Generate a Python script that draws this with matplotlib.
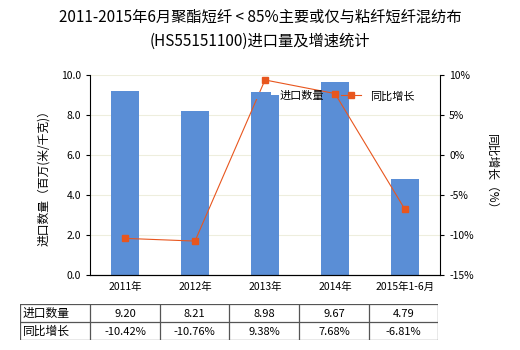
import numpy as np
import matplotlib.pyplot as plt

plt.rcParams['font.family'] = ['Noto Sans CJK SC', 'DejaVu Sans']

categories = ["2011年", "2012年", "2013年", "2014年", "2015年1-6月"]
qty = [9.20, 8.21, 8.98, 9.67, 4.79]
growth = [-10.42, -10.76, 9.38, 7.68, -6.81]
qty_labels = ["9.20", "8.21", "8.98", "9.67", "4.79"]
growth_labels = ["-10.42%", "-10.76%", "9.38%", "7.68%", "-6.81%"]

bar_color = "#5a8ed6"
line_color = "#e8561e"

fig = plt.figure(figsize=(5.2, 3.5), dpi=100)
ax = fig.add_axes([90 / 520, 1 - 275 / 350, 350 / 520, 200 / 350])
x = np.arange(len(categories))

ax.bar(x, qty, width=0.4, color=bar_color, label="进口数量", zorder=2)
ax.set_ylim(0, 10)
ax.set_xlim(-0.5, len(categories) - 0.5)
ax.set_yticks(np.arange(0, 10.1, 2))
ax.set_yticklabels([f"{v:.1f}" for v in np.arange(0, 10.1, 2)])
ax.set_xticks(x)
ax.set_xticklabels(categories)
ax.tick_params(labelsize=7.5, length=3)
ax.tick_params(axis='x', length=0, pad=5)
ax.grid(axis='y', color="#eeeedd", linewidth=0.8, zorder=0)
for s in ["top", "right"]:
    ax.spines[s].set_visible(False)
ax.set_ylabel("进口数量（百万(米/千克)）", fontsize=8.5, labelpad=8)

ax2 = ax.twinx()
ax2.plot(x, growth, color=line_color, marker="s", markersize=4.5, linewidth=0.8,
         label="同比增长", zorder=3)
ax2.set_ylim(-15, 10)
ax2.set_yticks(np.arange(-15, 11, 5))
ax2.set_yticklabels([f"{v}%" for v in range(-15, 11, 5)])
ax2.tick_params(labelsize=7.5, length=3)
for s in ["top", "left"]:
    ax2.spines[s].set_visible(False)
ax2.set_ylabel("同比增长（%）", fontsize=8.5, rotation=270, labelpad=18)

h1, l1 = ax.get_legend_handles_labels()
h2, l2 = ax2.get_legend_handles_labels()
ax2.legend(h1 + h2, l1 + l2, loc="upper right", bbox_to_anchor=(0.955, 0.97),
           ncol=2, frameon=False, fontsize=8, handlelength=1.8,
           columnspacing=1.5)

fig.suptitle("2011-2015年6月聚酯短纤 < 85%主要或仅与粘纤短纤混纺布\n(HS55151100)进口量及增速统计",
             fontsize=11, y=0.975, linespacing=1.55)

# table under the chart
tx = fig.add_axes([20 / 520, 1 - 340 / 350, 418 / 520, 36 / 350])
tx.set_xlim(20, 438)
tx.set_ylim(340, 304)
tx.axis("off")
col_edges = [20, 90, 160, 229, 299, 369, 438]
for cx in col_edges:
    tx.plot([cx, cx], [304, 340], color="#555555", linewidth=0.9)
for cy in [304, 322, 340]:
    tx.plot([20, 438], [cy, cy], color="#555555", linewidth=0.9)
rows = [("进口数量", qty_labels), ("同比增长", growth_labels)]
for r, (name, vals) in enumerate(rows):
    cy = 313 + r * 18
    tx.text(23, cy, name, fontsize=8.5, va="center", ha="left")
    for i, v in enumerate(vals):
        tx.text((col_edges[i + 1] + col_edges[i + 2]) / 2, cy + 1, v,
                fontsize=8, va="center", ha="center")

fig.savefig("out.png", dpi=100)
